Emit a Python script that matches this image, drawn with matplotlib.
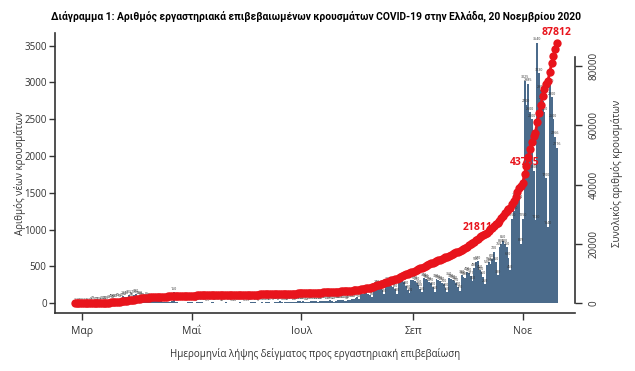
import matplotlib
matplotlib.use("Agg")
import matplotlib.pyplot as plt
import numpy as np
import pandas as pd

plt.rcParams['font.family'] = ['Open Sans', 'DejaVu Sans']

# daily new cases by sample date, 26 Feb - 20 Nov 2020
start_date = "2020-02-26"
feb = [1, 1, 0, 1]
mar = [0, 2, 1, 3, 2, 8, 21, 10, 12, 15, 18, 25, 30, 28, 20, 35, 48, 40, 55, 60,
       65, 58, 72, 101, 85, 90, 115, 78, 70, 110, 120]
apr = [95, 100, 80, 70, 55, 85, 70, 60, 50, 45, 40, 30, 25, 35, 22, 20, 18, 15, 12, 25,
       150, 15, 12, 10, 8, 10, 9, 10, 12, 12]
may = [12, 8, 5, 20, 12, 15, 11, 9, 6, 5, 10, 24, 12, 8, 9, 7, 4, 6, 10, 22,
       8, 9, 5, 4, 6, 8, 7, 20, 9, 6, 3]
jun = [5, 8, 12, 20, 15, 10, 6, 9, 14, 10, 12, 18, 15, 7, 8, 20, 22, 15, 25, 18,
       10, 14, 18, 22, 20, 15, 12, 20, 25, 25]
jul = [20, 25, 18, 15, 22, 30, 35, 28, 25, 20, 25, 30, 34, 35, 28, 32, 38, 30, 22, 35,
       40, 45, 38, 40, 35, 30, 45, 50, 55, 55, 70]
aug = [90, 60, 120, 130, 140, 150, 130, 110, 80, 170, 200, 240, 230, 220, 180, 120, 260, 280, 270, 230,
       220, 190, 130, 290, 310, 300, 290, 230, 180, 140, 310]
sep = [320, 300, 280, 250, 200, 150, 340, 330, 310, 290, 270, 220, 160, 330, 310, 300, 280, 260, 210, 150,
       350, 330, 310, 300, 270, 220, 170, 380, 360, 350]
oct_ = [420, 410, 371, 300, 480, 560, 570, 450, 420, 360, 260, 520, 560, 540, 600, 700, 560, 380, 760, 800,
        850, 800, 760, 620, 450, 1150, 1250, 1420, 1380, 1400, 809]
nov = [1150, 3025, 2700, 2985, 2600, 2500, 1800, 1130, 3540, 3130, 2900, 2750, 2600, 1700, 1040, 2970,
       2800, 2500, 2266, 2116]

labelled_dates = ["2020-10-07", "2020-11-02", "2020-11-20"]
month_ticks = ["2020-03-01", "2020-05-01", "2020-07-01", "2020-09-01", "2020-11-01"]
month_labels = ["Μαρ", "Μαΐ", "Ιουλ", "Σεπ", "Νοε"]
left_ticks = [0, 500, 1000, 1500, 2000, 2500, 3000, 3500]
right_ticks = [0, 20000, 40000, 60000, 80000]

BAR = "#4b6b8b"
RED = "#e8141c"
GREY = "#333333"

daily = np.array(feb + mar + apr + may + jun + jul + aug + sep + oct_ + nov)
dates = pd.date_range(start_date, periods=len(daily), freq="D")
total = np.cumsum(daily)

fig = plt.figure(figsize=(6.35, 3.71), dpi=100)
ax = fig.add_axes([0.0866, 0.1563, 0.8189, 0.7547])

ax.bar(dates, daily, width=1.0, color=BAR, linewidth=0)
# tiny value labels over every bar
for d, v in zip(dates, daily):
    ax.text(d, v + 18, str(v), fontsize=2.6, ha="center", va="bottom", color="#333333")

ax.set_xlim(pd.Timestamp("2020-02-15"), pd.Timestamp("2020-11-30"))
ax.set_ylim(-132, 3672)
ax.set_yticks(left_ticks)
ax.set_xticks(pd.to_datetime(month_ticks))
ax.set_xticklabels(month_labels)
ax.tick_params(axis="y", labelsize=7, colors=GREY, length=4, width=1, pad=2)
ax.tick_params(axis="x", labelsize=7.5, colors=GREY, length=5, width=1, pad=4)
for s in ["top", "right"]:
    ax.spines[s].set_visible(False)
for s in ["left", "bottom"]:
    ax.spines[s].set_color(GREY)
    ax.spines[s].set_linewidth(1.2)
ax.set_ylabel("Αριθμός νέων κρουσμάτων", fontsize=7, color=GREY, labelpad=-1)
ax.set_xlabel("Ημερομηνία λήψης δείγματος προς εργαστηριακή επιβεβαίωση", fontsize=7,
              color=GREY, labelpad=8)

ax2 = ax.twinx()
ax2.plot(dates, total, "-o", color=RED, markersize=6, linewidth=2, markeredgewidth=0)
for d in pd.to_datetime(labelled_dates):
    v = total[dates.get_loc(d)]
    ax2.annotate(str(v), (d, v), xytext=(0, 4), textcoords="offset points",
                 ha="center", va="bottom", fontsize=7.5, fontweight="bold", color=RED)
ax2.set_ylim(-3270, 91200)
ax2.set_yticks(right_ticks)
ax2.set_yticklabels([str(t) for t in right_ticks], rotation=90, va="center")
ax2.tick_params(axis="y", labelsize=7, colors=GREY, length=5, width=1, pad=5)
for s in ["top", "left", "bottom"]:
    ax2.spines[s].set_visible(False)
ax2.spines["right"].set_color(GREY)
ax2.spines["right"].set_linewidth(1.2)
ax2.spines["right"].set_bounds(0, 83000)
ax2.set_ylabel("Συνολικός αριθμός κρουσμάτων", fontsize=7, color=GREY, labelpad=8)

fig.text(0.497, 0.955, "Διάγραμμα 1: Αριθμός εργαστηριακά επιβεβαιωμένων κρουσμάτων COVID-19 "
         "στην Ελλάδα, 20 Νοεμβρίου 2020", ha="center", va="center", fontsize=7.4,
         fontweight="bold", family=["Roboto", "DejaVu Sans"])

fig.savefig("out.png", dpi=100)
